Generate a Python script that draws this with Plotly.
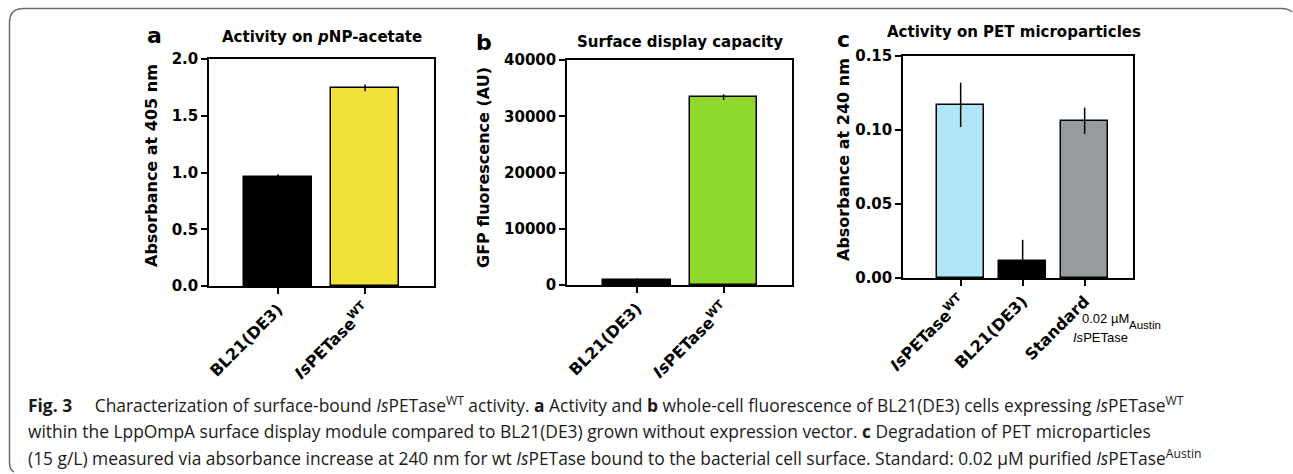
import plotly.graph_objects as go

W, H = 1293, 474

# ---- data ----
cats_a = ["BL21(DE3)", "<i>Is</i>PETase<sup>WT</sup>"]
vals_a = [0.96, 1.745]
err_a = [0.025, 0.03]
cols_a = ["#000000", "#F2E23A"]

cats_b = ["BL21(DE3)", "<i>Is</i>PETase<sup>WT</sup>"]
vals_b = [900, 33400]
err_b = [250, 500]
cols_b = ["#000000", "#8FD92D"]

cats_c = ["<i>Is</i>PETase<sup>WT</sup>", "BL21(DE3)", "Standard"]
vals_c = [0.117, 0.0115, 0.1063]
err_c = [0.015, 0.0143, 0.0088]
cols_c = ["#AEE6F6", "#000000", "#969B9D"]

FONT = "DejaVu Sans, Arial, sans-serif"
NOTE_FONT = "Liberation Sans, Arial, sans-serif"
CAP_FONT = "Open Sans, Noto Sans, sans-serif"


def px_x(x):
    return x / W


def px_y(y):
    return 1 - y / H


fig = go.Figure()

panels = [
    dict(cats=cats_a, vals=vals_a, err=err_a, cols=cols_a, xd=(209, 434), yd=(59, 286),
         rng=[0, 2.0], dtick=0.5, fmt=".1f", xr=[-0.79, 1.79], width=0.78, ax="x", ay="y"),
    dict(cats=cats_b, vals=vals_b, err=err_b, cols=cols_b, xd=(567, 792), yd=(60, 285),
         rng=[0, 40000], dtick=10000, fmt="d", xr=[-0.81, 1.79], width=0.78, ax="x2", ay="y2"),
    dict(cats=cats_c, vals=vals_c, err=err_c, cols=cols_c, xd=(903, 1133), yd=(56, 278),
         rng=[0, 0.15], dtick=0.05, fmt=".2f", xr=[-0.93, 2.78], width=0.76, ax="x3", ay="y3"),
]

for i, p in enumerate(panels):
    fig.add_trace(go.Bar(
        x=list(range(len(p["cats"]))), y=p["vals"],
        marker=dict(color=p["cols"], line=dict(color="black", width=1.5)),
        width=p["width"],
        error_y=dict(type="data", array=p["err"], color="black", thickness=1.5, width=0),
        xaxis=p["ax"], yaxis=p["ay"], showlegend=False, cliponaxis=True,
    ))
    sfx = "" if i == 0 else str(i + 1)
    fig.layout["xaxis" + sfx] = dict(
        domain=[px_x(p["xd"][0]), px_x(p["xd"][1])], anchor="y" + sfx,
        range=p["xr"], tickmode="array", tickvals=list(range(len(p["cats"]))),
        ticktext=p["cats"], tickangle=-45, automargin=False,
        ticks="outside", ticklen=6, tickwidth=1.5, tickcolor="black",
        showline=True, linecolor="black", linewidth=1.5, mirror=True,
        showgrid=False, zeroline=False,
        tickfont=dict(family=FONT, size=16, color="black", weight="bold"), fixedrange=True,
    )
    fig.layout["yaxis" + sfx] = dict(
        domain=[px_y(p["yd"][1]), px_y(p["yd"][0])], anchor="x" + sfx,
        range=p["rng"], dtick=p["dtick"], tick0=0, tickformat=p["fmt"], automargin=False,
        ticks="outside", ticklen=6, tickwidth=1.5, tickcolor="black",
        showline=True, linecolor="black", linewidth=1.5, mirror=True,
        showgrid=False, zeroline=False,
        tickfont=dict(family=FONT, size=15, color="black", weight="bold"), fixedrange=True,
    )

ann = []


def add_text(text, x, y, size, xanchor="center", yanchor="middle", angle=0, family=FONT,
             color="black", weight="bold"):
    ann.append(dict(text=text, x=px_x(x), y=px_y(y), xref="paper", yref="paper",
                    xanchor=xanchor, yanchor=yanchor, showarrow=False, textangle=angle,
                    font=dict(family=family, size=size, color=color, weight=weight)))


# panel letters
add_text("a", 154, 36, 22)
add_text("b", 484, 42, 22)
add_text("c", 843, 40, 22)

# titles
add_text("Activity on <i>p</i>NP-acetate", 322, 37, 15)
add_text("Surface display capacity", 680, 42, 15)
add_text("Activity on PET microparticles", 1014, 32, 15)

# y axis titles
add_text("Absorbance at 405 nm", 152, 166, 16, angle=-90)
add_text("GFP fluorescence (AU)", 483, 168, 16, angle=-90)
add_text("Absorbance at 240 nm", 843, 160, 16, angle=-90)

# standard note
add_text("0.02 µM", 1105, 318, 13, family=NOTE_FONT, weight="normal")
add_text("<i>Is</i>PETase", 1071, 337, 13, xanchor="left", family=NOTE_FONT, weight="normal")
add_text("Austin", 1127, 325, 11.5, xanchor="left", family=NOTE_FONT, weight="normal")

# caption
NB = "&nbsp;" * 5
cap1 = (f"<b>Fig. 3</b>{NB}Characterization of surface-bound <i>Is</i>PETase<sup>WT</sup> activity. "
        "<b>a</b> Activity and <b>b</b> whole-cell fluorescence of BL21(DE3) cells expressing "
        "<i>Is</i>PETase<sup>WT</sup>")
cap2 = ("within the LppOmpA surface display module compared to BL21(DE3) grown without expression "
        "vector. <b>c</b> Degradation of PET microparticles")
cap3 = ("(15 g/L) measured via absorbance increase at 240 nm for wt <i>Is</i>PETase bound to the "
        "bacterial cell surface. Standard: 0.02 µM purified <i>Is</i>PETase<sup>Austin</sup>")
for txt, yy in [(cap1, 404), (cap2, 431), (cap3, 457)]:
    add_text(txt, 26, yy, 17.4, xanchor="left", family=CAP_FONT, color="#1a1a1a", weight="normal")

# rounded border frame
r = 14
shapes = [dict(type="path", xref="paper", yref="paper",
               path=(f"M {px_x(9.5)},{px_y(8.5 + r)} "
                     f"Q {px_x(9.5)},{px_y(8.5)} {px_x(9.5 + r)},{px_y(8.5)} "
                     f"L {px_x(1282)},{px_y(8.5)} "
                     f"Q {px_x(1288)},{px_y(8.5)} {px_x(1292)},{px_y(12)} "
                     f"M {px_x(9.5)},{px_y(8.5 + r)} L {px_x(9.5)},{px_y(462)} "
                     f"Q {px_x(9.5)},{px_y(470)} {px_x(14)},{px_y(472)}"),
               line=dict(color="#6b6b6b", width=1.5))]

fig.update_layout(
    width=W, height=H, margin=dict(l=0, r=0, t=0, b=0, pad=0, autoexpand=False),
    paper_bgcolor="white", plot_bgcolor="white",
    annotations=ann, shapes=shapes, bargap=0,
    font=dict(family=FONT, color="black"),
)

fig.write_html(
    "out.html",
    config={"displayModeBar": False},
    post_script="document.body.style.margin='0';document.body.style.overflow='hidden';",
)
